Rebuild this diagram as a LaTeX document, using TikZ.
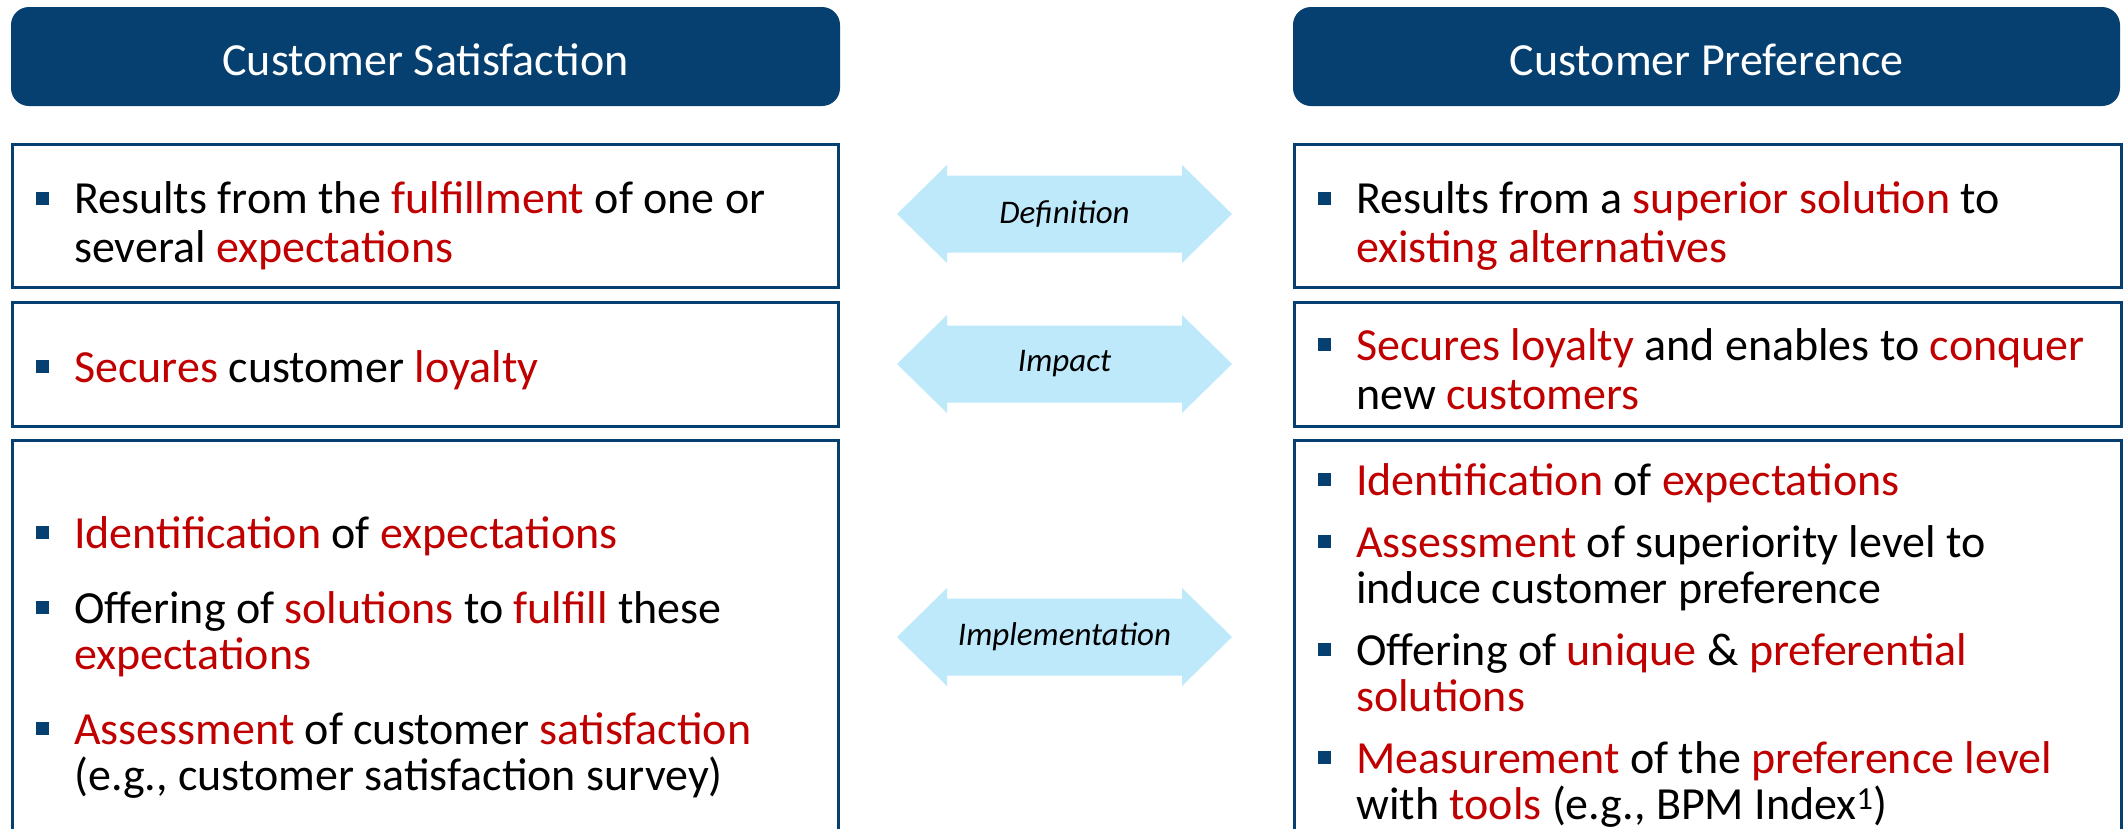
\documentclass[tikz,border=0pt]{standalone}
\usepackage{fontspec}
\setmainfont{Carlito}
\definecolor{hdr}{RGB}{6,64,112}
\definecolor{myred}{RGB}{192,0,0}
\definecolor{arr}{RGB}{190,233,251}
\newcommand\rd[1]{\textcolor{myred}{#1}}
\newcommand\bitem[1]{\par\noindent\hangindent=38pt\hangafter=1\makebox[38pt][l]{\textcolor{hdr}{\rule[9pt]{13pt}{13pt}}}#1\par}
\begin{document}
\begin{tikzpicture}[x=1pt,y=-1pt,
  hdrbox/.style={fill=hdr,draw=none,rounded corners=18pt},
  hdrtext/.style={text=white,font=\fontsize{46}{48}\selectfont,inner sep=0pt},
  cbox/.style={draw=hdr,line width=2.5pt,fill=white,anchor=north west,inner sep=0pt},
  btext/.style={anchor=west,inner sep=0pt,font=\fontsize{46}{49}\selectfont},
  alabel/.style={inner sep=0pt,font=\fontsize{33}{36}\selectfont\itshape},
  arrfill/.style={fill=arr,draw=none}]
\useasboundingbox (0,0) rectangle (2123,828);
\clip (0,0) rectangle (2123,828);
\fill[white] (0,0) rectangle (2123,828);

% headers
\path[hdrbox] (11,7) rectangle (840,106);
\node[hdrtext] (h1) at (425.5,60) {Customer Satisfaction};
\path[hdrbox] (1293,7) rectangle (2120,106);
\node[hdrtext] (h2) at (1706.5,60) {Customer Preference};

% left boxes
\node[cbox,minimum width=826pt,minimum height=143pt] (l1) at (11,143) {};
\node[cbox,minimum width=826pt,minimum height=124pt] (l2) at (11,301) {};
\node[cbox,minimum width=826pt,minimum height=432pt] (l3) at (11,439) {};
% right boxes
\node[cbox,minimum width=827pt,minimum height=143pt] (r1) at (1293,143) {};
\node[cbox,minimum width=827pt,minimum height=124pt] (r2) at (1293,301) {};
\node[cbox,minimum width=827pt,minimum height=432pt] (r3) at (1293,439) {};

% left texts
\node[btext] (l1t) at (36,226) {\parbox{790pt}{%
  \bitem{Results from the \rd{fulfillment} of one or\newline several \rd{expectations}}}};
\node[btext] (l2t) at (36,370) {\parbox{790pt}{%
  \bitem{\rd{Secures} customer \rd{loyalty}}}};
\node[btext,font=\fontsize{46}{46}\selectfont] (l3t) at (36,657) {\parbox{790pt}{\setlength{\parskip}{29pt}%
  \bitem{\rd{Identification} of \rd{expectations}}%
  \bitem{Offering of \rd{solutions} to \rd{fulfill} these\newline \rd{expectations}}%
  \bitem{\rd{Assessment} of customer \rd{satisfaction}\newline (e.g., customer satisfaction survey)}}};

% right texts
\node[btext] (r1t) at (1318,226) {\parbox{780pt}{%
  \bitem{Results from a \rd{superior solution} to\newline \rd{existing alternatives}}}};
\node[btext] (r2t) at (1318,369) {\parbox{780pt}{%
  \bitem{\rd{Secures loyalty} and enables to \rd{conquer}\newline new \rd{customers}}}};
\node[btext,font=\fontsize{46}{46}\selectfont] (r3t) at (1318,645) {\parbox{780pt}{\setlength{\parskip}{16pt}%
  \bitem{\rd{Identification} of \rd{expectations}}%
  \bitem{\rd{Assessment} of superiority level to\newline induce customer preference}%
  \bitem{Offering of \rd{unique} \& \rd{preferential}\newline \rd{solutions}}%
  \bitem{\rd{Measurement} of the \rd{preference level}\newline with \rd{tools} (e.g., BPM Index\textsuperscript{1})}}};

% double arrows
\foreach \cy/\nm/\lab in {214/a1/Definition,364/a2/Impact,637/a3/Implementation}{
  \fill[arrfill] (897,\cy) -- (947,\cy-49) -- (947,\cy-38.5) -- (1182,\cy-38.5) -- (1182,\cy-49)
     -- (1232,\cy) -- (1182,\cy+49) -- (1182,\cy+38.5) -- (947,\cy+38.5) -- (947,\cy+49) -- cycle;
  \node[alabel] (\nm) at (1064.5,\cy) {\lab};
}
\end{tikzpicture}
\end{document}
